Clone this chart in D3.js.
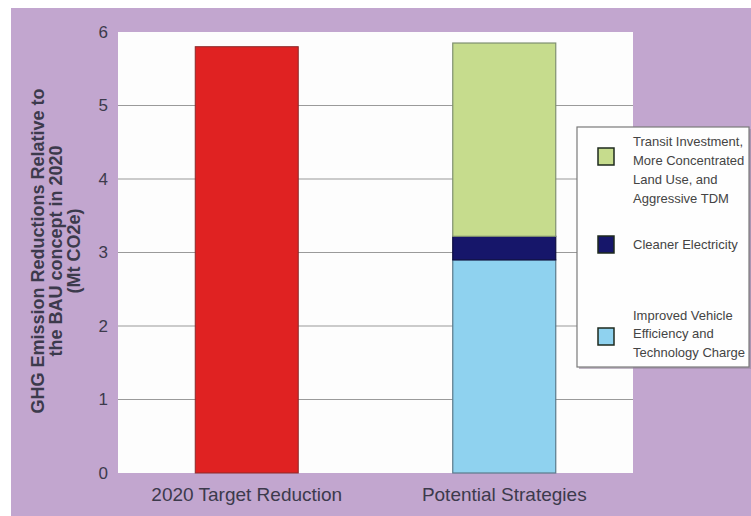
<!DOCTYPE html>
<html>
<head>
<meta charset="utf-8">
<script src="https://cdn.jsdelivr.net/npm/d3@7"></script>
<style>
  body { margin: 0; background: #fff; }
  svg { display: block; font-family: Arial, "Liberation Sans", sans-serif; }
</style>
</head>
<body>
<svg id="chart" width="751" height="516"></svg>
<script>
// categories on the x axis
const categories = ['2020 Target Reduction', 'Potential Strategies']
// the single red target bar
const targetValue = [5.8]
// stacked series for the strategies bar, bottom to top
const seriesNames = ['Improved Vehicle Efficiency and Technology Charge', 'Cleaner Electricity', 'Transit Investment, More Concentrated Land Use, and Aggressive TDM']
const seriesValues = [2.9, 0.32, 2.63]
const yTicks = [0, 1, 2, 3, 4, 5, 6]
// legend text, split in lines, top to bottom
const legendLabels = [
  ['Transit Investment,', 'More Concentrated', 'Land Use, and', 'Aggressive TDM'],
  ['Cleaner Electricity'],
  ['Improved Vehicle', 'Efficiency and', 'Technology Charge']
]
const yTitle = ['GHG Emission Reductions Relative to', 'the BAU concept in 2020', '(Mt CO2e)']

const colors = ['#8fd2ef', '#16166a', '#c6dc8d']
const strokes = ['#5a7a8a', '#0c0c40', '#7f9070']

const svg = d3.select('#chart')

// purple backdrop
svg.append('rect').attr('x', 11).attr('y', 8).attr('width', 740).attr('height', 508).attr('fill', '#c2a6cf')

const plot = { left: 118, right: 633, top: 32, bottom: 473 }

svg.append('rect')
  .attr('x', plot.left).attr('y', plot.top)
  .attr('width', plot.right - plot.left).attr('height', plot.bottom - plot.top)
  .attr('fill', '#fdfdfd')

const y = d3.scaleLinear().domain([0, 6]).range([plot.bottom, plot.top])
const x = d3.scaleBand().domain(categories).range([plot.left, plot.right]).paddingInner(0.6).paddingOuter(0.3)

// grid lines
svg.append('g').selectAll('line').data(yTicks.filter(d => d > 0 && d < 6)).join('line')
  .attr('x1', plot.left).attr('x2', plot.right)
  .attr('y1', d => y(d)).attr('y2', d => y(d))
  .attr('stroke', '#9a9a9a').attr('stroke-width', 1.2)

// y axis labels
const yAxis = d3.axisLeft(y).tickValues(yTicks).tickFormat(d3.format('d')).tickSize(0).tickPadding(10)
const gy = svg.append('g').attr('transform', 'translate(' + plot.left + ',0)').call(yAxis)
gy.select('.domain').remove()
gy.selectAll('text').attr('font-size', 17).attr('fill', '#3c3a4c').attr('font-family', 'Arial, Liberation Sans, sans-serif')

// x axis labels
const xAxis = d3.axisBottom(x).tickSize(0).tickPadding(15)
const gx = svg.append('g').attr('transform', 'translate(0,' + plot.bottom + ')').call(xAxis)
gx.select('.domain').remove()
gx.selectAll('text').attr('font-size', 19).attr('fill', '#3c3a4c').attr('font-family', 'Arial, Liberation Sans, sans-serif')

// target bar
svg.append('rect')
  .attr('x', x(categories[0])).attr('width', x.bandwidth())
  .attr('y', y(targetValue[0])).attr('height', y(0) - y(targetValue[0]))
  .attr('fill', '#e02222').attr('stroke', '#8a2a2a').attr('stroke-width', 1)

// stacked bar
const stackData = [Object.fromEntries(seriesNames.map((n, i) => [n, seriesValues[i]]))]
const stacked = d3.stack().keys(seriesNames)(stackData)
svg.append('g').selectAll('rect').data(stacked).join('rect')
  .attr('x', x(categories[1])).attr('width', x.bandwidth())
  .attr('y', d => y(d[0][1])).attr('height', d => y(d[0][0]) - y(d[0][1]))
  .attr('fill', (d, i) => colors[i]).attr('stroke', (d, i) => strokes[i]).attr('stroke-width', 1.2)

// y title
const title = svg.append('text')
  .attr('transform', 'translate(56,251) rotate(-90)')
  .attr('text-anchor', 'middle').attr('font-weight', 'bold').attr('font-size', 18).attr('fill', '#3c3a4c')
yTitle.forEach((t, i) => {
  title.append('tspan').attr('x', 0).attr('y', (i - 1) * 18 + 6).text(t)
})

// legend
const leg = svg.append('g')
leg.append('rect').attr('x', 579).attr('y', 129).attr('width', 172).attr('height', 240).attr('fill', '#9a8aa0').attr('opacity', 0.6)
leg.append('rect').attr('x', 577).attr('y', 127).attr('width', 172).attr('height', 240)
  .attr('fill', '#fefefe').attr('stroke', '#7a7a7a').attr('stroke-width', 1.2)

const swatchY = [148, 236, 328]
const textY = [[146, 165, 184, 203], [249], [320, 338, 357]]
const legColors = [colors[2], colors[1], colors[0]]
legendLabels.forEach((lines, i) => {
  leg.append('rect').attr('x', 598).attr('y', swatchY[i]).attr('width', 16).attr('height', 17)
    .attr('fill', legColors[i]).attr('stroke', '#1e2a1e').attr('stroke-width', 1.5)
  lines.forEach((t, j) => {
    leg.append('text').attr('x', 633).attr('y', textY[i][j])
      .attr('font-size', 13).attr('fill', '#444')
      .text(t)
  })
})
</script>
</body>
</html>
